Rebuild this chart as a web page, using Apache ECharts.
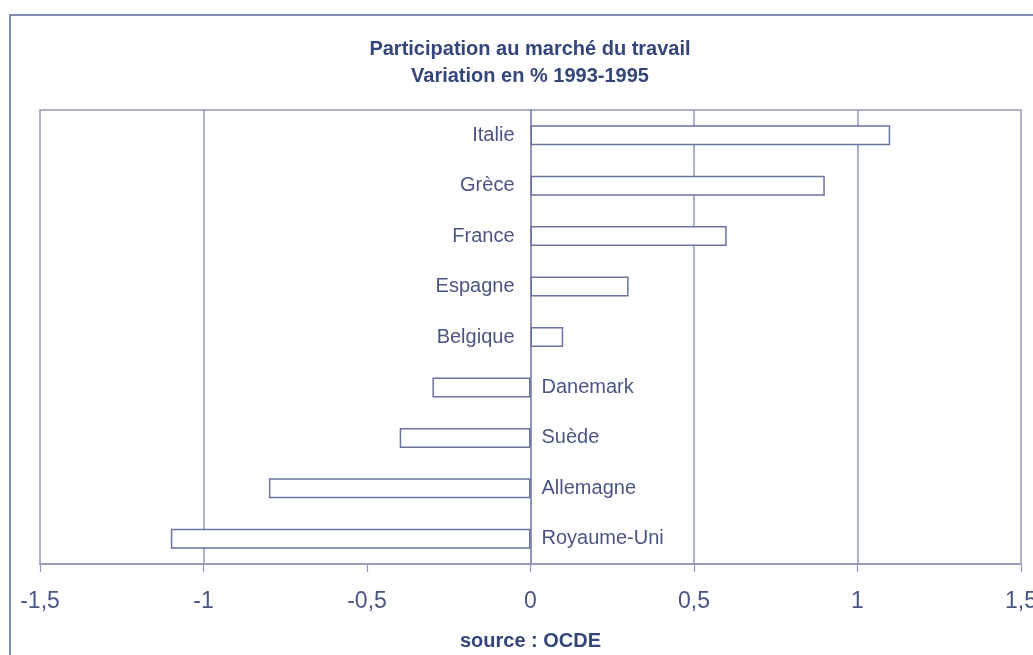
<!DOCTYPE html>
<html>
<head>
<meta charset="utf-8">
<script src="https://cdn.jsdelivr.net/npm/echarts@6/dist/echarts.min.js"></script>
<style>
  html, body { margin: 0; padding: 0; background: #fff; }
  #chart { width: 1033px; height: 655px; }
</style>
</head>
<body>
<div id="chart"></div>
<script>
// Labour-force participation, % change 1993-1995 (source: OECD)
const countries = ['Italie', 'Grèce', 'France', 'Espagne', 'Belgique', 'Danemark', 'Suède', 'Allemagne', 'Royaume-Uni'];
const variation = [1.1, 0.9, 0.6, 0.3, 0.1, -0.3, -0.4, -0.8, -1.1];
const gridValues = [-1, 0.5, 1];

const lineColor = '#6a729f';
const frameColor = '#9298bb';
const textColor = '#4a5582';
const titleColor = '#34457a';
const fontFamily = 'Liberation Sans, Arial, sans-serif';

const chart = echarts.init(document.getElementById('chart'), null, { renderer: 'canvas' });

// Positive bars carry their country name left of the zero line, negative ones right of it
const barData = variation.map(v => ({
  value: v,
  label: {
    position: v >= 0 ? 'left' : 'right',
    distance: v >= 0 ? 16 : 11
  }
}));

chart.setOption({
  backgroundColor: '#ffffff',
  animation: false,
  graphic: [{
    type: 'rect',
    shape: { x: 10, y: 15, width: 1060, height: 700 },
    style: { fill: 'none', stroke: '#868cb4', lineWidth: 2 },
    silent: true,
    z: -1
  }, {
    type: 'text',
    x: 530, y: 63,
    style: {
      text: 'Participation au marché du travail\nVariation en % 1993-1995',
      fontFamily: fontFamily,
      fontSize: 20,
      fontWeight: 'bold',
      fill: titleColor,
      lineHeight: 27,
      align: 'center',
      verticalAlign: 'middle'
    },
    silent: true
  }],
  grid: {
    left: 40, right: 12, top: 110, bottom: 91,
    outerBoundsMode: 'none',
    containLabel: false,
    show: true,
    borderColor: frameColor,
    borderWidth: 1.5,
    backgroundColor: 'transparent'
  },
  xAxis: {
    type: 'value',
    min: -1.5, max: 1.5, interval: 0.5,
    name: 'source : OCDE',
    nameLocation: 'middle',
    nameGap: 67,
    nameTextStyle: {
      fontFamily: fontFamily,
      fontSize: 20,
      fontWeight: 'bold',
      color: titleColor
    },
    axisLine: { show: true, lineStyle: { color: frameColor, width: 1.5 } },
    axisTick: { show: true, length: 8, lineStyle: { color: frameColor, width: 1.2 } },
    splitLine: { show: false },
    axisLabel: {
      margin: 26,
      fontFamily: fontFamily,
      fontSize: 23,
      color: textColor,
      formatter: v => String(v).replace('.', ',')
    }
  },
  yAxis: {
    type: 'category',
    data: countries,
    inverse: true,
    axisLine: { show: true, onZero: true, lineStyle: { color: lineColor, width: 1.5 } },
    axisTick: { show: false },
    axisLabel: { show: false },
    splitLine: { show: false }
  },
  series: [{
    type: 'bar',
    data: barData,
    barWidth: 20,
    itemStyle: {
      color: '#ffffff',
      borderColor: lineColor,
      borderWidth: 1.5
    },
    label: {
      show: true,
      formatter: '{b}',
      fontFamily: fontFamily,
      fontSize: 20,
      color: textColor
    },
    markLine: {
      silent: true,
      symbol: 'none',
      label: { show: false },
      lineStyle: { color: frameColor, width: 1.5, type: 'solid' },
      data: gridValues.map(v => ({ xAxis: v })),
      z: 1
    },
    z: 3
  }]
});
</script>
</body>
</html>
